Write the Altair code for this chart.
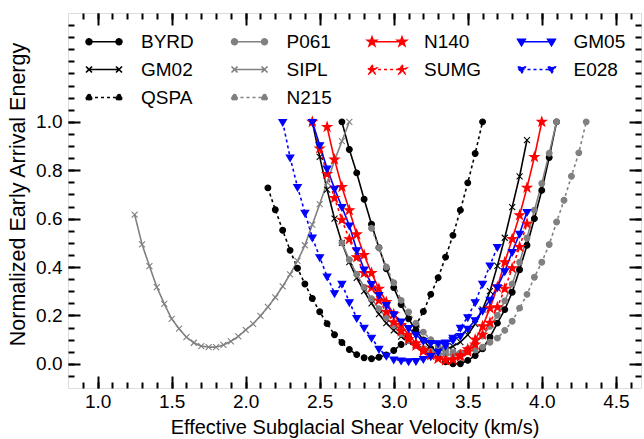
import altair as alt
import pandas as pd

# ---------------- data ----------------
GRID = [1.25, 1.30, 1.35, 1.40, 1.45, 1.50, 1.55, 1.60, 1.65, 1.70, 1.75, 1.80, 1.85, 1.90, 1.95,
        2.00, 2.05, 2.10, 2.15, 2.20, 2.25, 2.30, 2.35, 2.40, 2.45, 2.50, 2.55, 2.60, 2.65, 2.70,
        2.75, 2.80, 2.85, 2.90, 2.95, 3.00, 3.05, 3.10, 3.15, 3.20, 3.25, 3.30, 3.35, 3.40, 3.45,
        3.50, 3.55, 3.60, 3.65, 3.70, 3.75, 3.80, 3.85, 3.90, 3.95, 4.00, 4.05, 4.10, 4.15, 4.20,
        4.25, 4.30]

SERIES = ["BYRD", "GM02", "QSPA", "P061", "SIPL", "N215", "N140", "SUMG", "GM05", "E028"]
START = {"BYRD": 2.65, "GM02": 2.45, "QSPA": 2.15, "P061": 2.65, "SIPL": 1.25,
         "N215": 2.85, "N140": 2.55, "SUMG": 2.45, "GM05": 2.45, "E028": 2.25}

E_BYRD = [1.0, 0.886, 0.789, 0.68, 0.577, 0.48, 0.393, 0.315, 0.245, 0.186, 0.138, 0.099, 0.062,
          0.03, 0.008, 0.0, 0.0, 0.014, 0.034, 0.062, 0.11, 0.168, 0.224, 0.296, 0.389, 0.49,
          0.6, 0.717, 0.853, 1.0]
E_GM02 = [1.0, 0.855, 0.72, 0.6, 0.5, 0.42, 0.355, 0.30, 0.25, 0.205, 0.168, 0.138, 0.112, 0.09,
          0.073, 0.062, 0.055, 0.055, 0.06, 0.072, 0.09, 0.12, 0.165, 0.225, 0.3, 0.405, 0.521,
          0.648, 0.775, 0.925]
E_QSPA = [0.727, 0.637, 0.552, 0.469, 0.395, 0.33, 0.27, 0.215, 0.166, 0.12, 0.088, 0.059, 0.038,
          0.025, 0.021, 0.027, 0.037, 0.055, 0.08, 0.11, 0.159, 0.216, 0.287, 0.356, 0.441, 0.531,
          0.635, 0.748, 0.869, 1.0]
E_P061 = [0.5, 0.43, 0.37, 0.317, 0.269, 0.228, 0.19, 0.158, 0.124, 0.096, 0.076, 0.062, 0.051,
          0.043, 0.038, 0.038, 0.045, 0.06, 0.085, 0.115, 0.155, 0.2, 0.26, 0.33, 0.42, 0.52,
          0.635, 0.745, 0.87, 1.0]
E_SIPL = [0.617, 0.494, 0.404, 0.317, 0.248, 0.186, 0.145, 0.11, 0.087, 0.073, 0.069, 0.069, 0.078,
          0.093, 0.113, 0.14, 0.165, 0.198, 0.235, 0.275, 0.32, 0.37, 0.425, 0.49, 0.575, 0.66,
          0.75, 0.84, 0.92, 1.0]
E_N215 = [0.56, 0.48, 0.40, 0.335, 0.262, 0.214, 0.168, 0.131, 0.10, 0.075, 0.058, 0.048, 0.045,
          0.05, 0.058, 0.069, 0.089, 0.106, 0.138, 0.176, 0.23, 0.287, 0.358, 0.42, 0.493, 0.586,
          0.676, 0.775, 0.872, 1.0]
E_N140 = [0.979, 0.844, 0.731, 0.635, 0.535, 0.45, 0.375, 0.31, 0.255, 0.205, 0.16, 0.12, 0.085,
          0.058, 0.038, 0.022, 0.015, 0.018, 0.035, 0.06, 0.1, 0.155, 0.23, 0.317, 0.42, 0.516,
          0.614, 0.728, 0.855, 1.0]
E_SUMG = [1.0, 0.89, 0.785, 0.685, 0.595, 0.515, 0.44, 0.375, 0.315, 0.262, 0.215, 0.172, 0.135,
          0.102, 0.075, 0.052, 0.035, 0.022, 0.015, 0.018, 0.03, 0.05, 0.08, 0.12, 0.17, 0.234,
          0.31, 0.395, 0.483, 0.579]
E_GM05 = [1.0, 0.904, 0.807, 0.724, 0.648, 0.572, 0.47, 0.39, 0.33, 0.285, 0.243, 0.205, 0.175,
          0.148, 0.12, 0.095, 0.086, 0.085, 0.088, 0.098, 0.115, 0.145, 0.18, 0.22, 0.265, 0.317,
          0.383, 0.462, 0.538, 0.628]
E_E028 = [1.0, 0.853, 0.731, 0.625, 0.522, 0.441, 0.361, 0.292, 0.331, 0.255, 0.19, 0.149, 0.108,
          0.062, 0.034, 0.018, 0.014, 0.011, 0.012, 0.02, 0.032, 0.05, 0.075, 0.108, 0.149, 0.193,
          0.255, 0.331, 0.407, 0.483]

VALUES = {"BYRD": E_BYRD, "GM02": E_GM02, "QSPA": E_QSPA, "P061": E_P061, "SIPL": E_SIPL,
          "N215": E_N215, "N140": E_N140, "SUMG": E_SUMG, "GM05": E_GM05, "E028": E_E028}

X_LABELS = [1.0, 1.5, 2.0, 2.5, 3.0, 3.5, 4.0, 4.5]
X_MINOR = [0.9, 1.0, 1.1, 1.2, 1.3, 1.4, 1.5, 1.6, 1.7, 1.8, 1.9, 2.0, 2.1, 2.2, 2.3, 2.4, 2.5,
           2.6, 2.7, 2.8, 2.9, 3.0, 3.1, 3.2, 3.3, 3.4, 3.5, 3.6, 3.7, 3.8, 3.9, 4.0, 4.1, 4.2,
           4.3, 4.4, 4.5, 4.6]
Y_LABELS = [0.0, 0.2, 0.4, 0.6, 0.8, 1.0]
Y_MINOR = [-0.05, 0.0, 0.05, 0.1, 0.15, 0.2, 0.25, 0.3, 0.35, 0.4, 0.45, 0.5, 0.55, 0.6, 0.65,
           0.7, 0.75, 0.8, 0.85, 0.9, 0.95, 1.0, 1.05, 1.1, 1.15, 1.2, 1.25, 1.3, 1.35, 1.4]

# ---------------- styles ----------------
COLOR = {"BYRD": "#000000", "GM02": "#000000", "QSPA": "#000000", "P061": "#808080",
         "SIPL": "#808080", "N215": "#808080", "N140": "#ff0000", "SUMG": "#ff0000",
         "GM05": "#0000ff", "E028": "#0000ff"}
SOLID = [1, 0]
DOT = [3, 3]
DASH = {"BYRD": SOLID, "GM02": SOLID, "QSPA": DOT, "P061": SOLID, "SIPL": SOLID, "N215": DOT,
        "N140": SOLID, "SUMG": DOT, "GM05": SOLID, "E028": DOT}
MARK = {"BYRD": "circle", "GM02": "x", "QSPA": "circle", "P061": "circle", "SIPL": "x",
        "N215": "circle", "N140": "star", "SUMG": "star", "GM05": "tri", "E028": "tri"}

STAR = [(0, -2.4), (0.558, -0.769), (2.283, -0.742), (0.904, 0.294), (1.411, 1.942),
        (0, 0.95), (-1.411, 1.942), (-0.904, 0.294), (-2.283, -0.742), (-0.558, -0.769)]
TRI = [(-1.9, -1.2), (1.9, -1.2), (0, 2.0)]


def marker_path(kind, cx=0.0):
    if kind == "circle":
        r = 1.45
        return (f"M{cx + r},0A{r},{r} 0 1,1 {cx - r},0A{r},{r} 0 1,1 {cx + r},0Z")
    if kind == "x":
        a = 1.5
        return f"M{cx - a},{-a}L{cx + a},{a}M{cx - a},{a}L{cx + a},{-a}"
    pts = STAR if kind == "star" else TRI
    return "M" + "L".join(f"{x + cx:.3f},{y:.3f}" for x, y in pts) + "Z"


def legend_path(kind, half=7.5):
    return f"M{-half},0L{half},0" + marker_path(kind, -half) + marker_path(kind, half)


LEG_ORDER = ["BYRD", "P061", "N140", "GM05", "GM02", "SIPL", "SUMG", "E028", "QSPA", "N215"]

rows = []
for s in SERIES:
    i0 = min(range(len(GRID)), key=lambda k: abs(GRID[k] - START[s]))
    for j, e in enumerate(VALUES[s]):
        rows.append({"series": s, "v": GRID[i0 + j], "E": e, "k": j})
df = pd.DataFrame(rows)

XS = alt.Scale(domain=[0.8, 4.67], nice=False, zero=False)
YS = alt.Scale(domain=[-0.1, 1.45], nice=False, zero=False)
FONT = "Liberation Sans"

base = alt.Chart(df)


def tick_layer(xaxis, yaxis):
    return base.mark_point(opacity=0).encode(
        x=alt.X("v:Q", scale=XS, axis=xaxis),
        y=alt.Y("E:Q", scale=YS, axis=yaxis),
    )


def ticks_axis(orient, values, size):
    return alt.Axis(orient=orient, values=values, labels=False, domain=False, grid=False,
                    ticks=True, tickSize=size, tickWidth=2, tickColor="black",
                    offset=-size, title=None)


label_layer = tick_layer(
    alt.Axis(orient="bottom", values=X_LABELS, format=".1f", ticks=False, domain=False,
             grid=False, labelFont=FONT, labelFontSize=19, labelColor="black", labelPadding=4,
             title="Effective Subglacial Shear Velocity (km/s)", titleFont=FONT,
             titleFontSize=20, titleFontWeight="normal", titleColor="black", titlePadding=6),
    alt.Axis(orient="left", values=Y_LABELS, format=".1f", ticks=False, domain=False,
             grid=False, labelFont=FONT, labelFontSize=19, labelColor="black", labelPadding=6,
             title="Normalized Early Arrival Energy", titleFont=FONT, titleFontSize=21.5,
             titleFontWeight="normal", titleColor="black", titlePadding=6, titleY=181),
)
major_bl = tick_layer(ticks_axis("bottom", X_LABELS, 12), ticks_axis("left", Y_LABELS, 12))
major_tr = tick_layer(ticks_axis("top", X_LABELS, 12), ticks_axis("right", Y_LABELS, 12))
minor_bl = tick_layer(ticks_axis("bottom", X_MINOR, 6), ticks_axis("left", Y_MINOR, 6))
minor_tr = tick_layer(ticks_axis("top", X_MINOR, 6), ticks_axis("right", Y_MINOR, 6))

col_scale = alt.Scale(domain=SERIES, range=[COLOR[s] for s in SERIES])

lines = base.mark_line(strokeWidth=1.6, clip=True).encode(
    x=alt.X("v:Q", scale=XS, axis=None),
    y=alt.Y("E:Q", scale=YS, axis=None),
    color=alt.Color("series:N", scale=col_scale, legend=None),
    strokeDash=alt.StrokeDash("series:N", scale=alt.Scale(domain=SERIES,
                              range=[DASH[s] for s in SERIES]), legend=None),
    order=alt.Order("k:Q"),
)

points = base.mark_point(filled=True, size=16, strokeWidth=1.1, opacity=1, clip=True).encode(
    x=alt.X("v:Q", scale=XS, axis=None),
    y=alt.Y("E:Q", scale=YS, axis=None),
    shape=alt.Shape("series:N", scale=alt.Scale(domain=SERIES,
                    range=[marker_path(MARK[s]) for s in SERIES]), legend=None),
    fill=alt.Fill("series:N", scale=col_scale, legend=None),
    stroke=alt.Stroke("series:N", scale=col_scale, legend=None),
)

LEG = alt.Legend(orient="none", legendX=8.5, legendY=19, columns=4, direction="horizontal",
                 title=None, labelFont=FONT, labelFontSize=19, labelColor="black",
                 symbolSize=16, symbolOffset=18, labelOffset=27.5, columnPadding=27.5,
                 rowPadding=8, padding=0, symbolStrokeWidth=1.6, symbolOpacity=1,
                 labelLimit=200)
leg_col = alt.Scale(domain=LEG_ORDER, range=[COLOR[s] for s in LEG_ORDER])
legend_layer = base.mark_point(filled=True, size=16, opacity=0).encode(
    x=alt.X("v:Q", scale=XS, axis=None),
    y=alt.Y("E:Q", scale=YS, axis=None),
    shape=alt.Shape("series:N", scale=alt.Scale(domain=LEG_ORDER,
                    range=[legend_path(MARK[s]) for s in LEG_ORDER]), legend=LEG),
    fill=alt.Fill("series:N", scale=leg_col, legend=LEG),
    stroke=alt.Stroke("series:N", scale=leg_col, legend=LEG),
    strokeDash=alt.StrokeDash("series:N", scale=alt.Scale(domain=LEG_ORDER,
                              range=[DASH[s] for s in LEG_ORDER]), legend=LEG),
)

chart = alt.layer(
    label_layer, major_bl, major_tr, minor_bl, minor_tr, lines, points, legend_layer
).resolve_axis(
    x="independent", y="independent"
).resolve_scale(
    color="independent", fill="independent", stroke="independent",
    shape="independent", strokeDash="independent"
).properties(
    width=573, height=375,
    autosize=alt.AutoSizeParams(type="none"),
    padding={"left": 68, "top": 13, "right": 3, "bottom": 51},
).configure_view(
    stroke="black", strokeWidth=2
).configure(
    background="white"
)

chart.save("out.html", embed_options={"renderer": "svg", "actions": False})
